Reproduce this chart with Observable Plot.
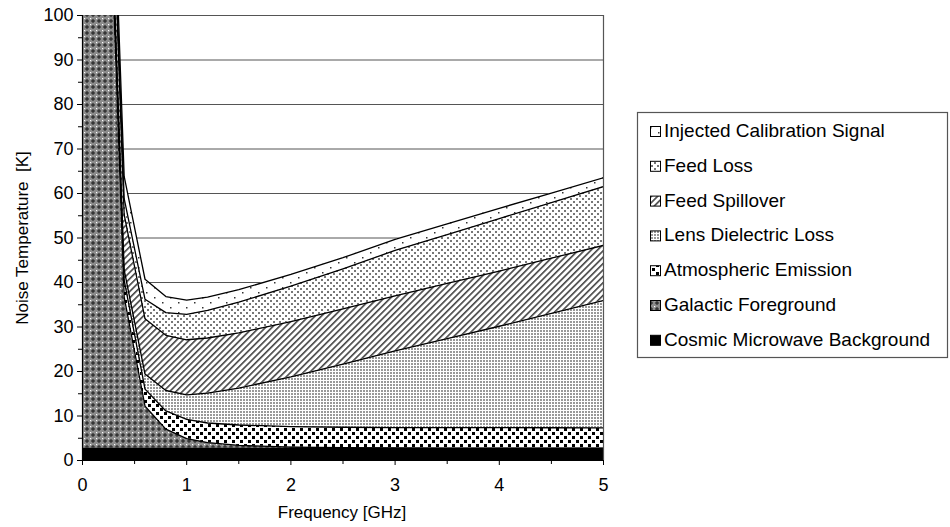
<!DOCTYPE html>
<html><head><meta charset="utf-8">
<script src="https://cdn.jsdelivr.net/npm/d3@7"></script>
<script src="https://cdn.jsdelivr.net/npm/@observablehq/plot@0.6"></script>
<style>
html,body{margin:0;padding:0;background:#fff;}
#chart{position:relative;width:950px;height:527px;}
</style></head><body>
<svg width="0" height="0" style="position:absolute">
<defs>
  <pattern id="pat-cmb" patternUnits="userSpaceOnUse" width="4" height="4"><rect width="4" height="4" fill="#000"/></pattern>
  <pattern id="pat-gal" patternUnits="userSpaceOnUse" width="6" height="6">
    <rect width="6" height="6" fill="#8c8c8c"/>
    <polygon points="3,1 5,3 3,5 1,3" fill="#1a1a1a"/>
    <rect x="0" y="0" width="1.2" height="1.2" fill="#fff"/>
    <rect x="2.6" y="2.6" width="0.8" height="0.8" fill="#ccc"/>
  </pattern>
  <pattern id="pat-atm" patternUnits="userSpaceOnUse" width="8" height="8">
    <rect width="8" height="8" fill="#fff"/>
    <rect x="0" y="0" width="3" height="3" fill="#000"/>
    <rect x="4" y="4" width="3" height="3" fill="#000"/>
  </pattern>
  <pattern id="pat-lens" patternUnits="userSpaceOnUse" width="3" height="3">
    <rect width="3" height="3" fill="#fff"/>
    <rect x="0" y="0" width="2" height="2" fill="#999"/>
  </pattern>
  <pattern id="pat-spill" patternUnits="userSpaceOnUse" width="4.5" height="4.5" patternTransform="rotate(45)">
    <rect width="4.5" height="4.5" fill="#fff"/>
    <rect x="0" y="0" width="1.6" height="4.5" fill="#444"/>
  </pattern>
  <pattern id="pat-feed" patternUnits="userSpaceOnUse" width="6" height="6">
    <rect width="6" height="6" fill="#fff"/>
    <rect x="0" y="0" width="2" height="2" fill="#777"/>
    <rect x="3" y="3" width="2" height="2" fill="#777"/>
  </pattern>
  <pattern id="pat-inj" patternUnits="userSpaceOnUse" width="16" height="10">
    <rect width="16" height="10" fill="#fff"/>
    <rect x="2" y="2" width="1.5" height="1.5" fill="#333"/>
    <rect x="10" y="7" width="1.5" height="1.5" fill="#333"/>
  </pattern>
</defs></svg>
<div id="chart"></div>
<script>
// Frequency samples [GHz]
const freq        = [0,    0.1,  0.2, 0.3, 0.4, 0.6, 0.8, 1.0, 1.2, 1.5,  2.0,  2.5,  3.0,  3.5,  4.0,  4.5,  5.0];
// Noise temperature contributions [K] (stacked bottom to top)
const cmb         = [2.73, 2.73, 2.73, 2.73, 2.73, 2.73, 2.73, 2.73, 2.73, 2.73, 2.73, 2.73, 2.73, 2.73, 2.73, 2.73, 2.73];
const galactic    = [8000, 2200, 275, 100, 34, 9.5, 4.3, 2.2, 1.3, 0.65, 0.28, 0.14, 0.08, 0.05, 0.04, 0.03, 0.02];
const atmospheric = [3.8, 3.8, 3.8, 3.8, 3.8, 3.8, 4.1, 4.3, 4.4, 4.6, 4.6, 4.6, 4.6, 4.6, 4.6, 4.6, 4.6];
const lensLoss    = [0, 0.6, 1.1, 1.7, 2.3, 3.4, 4.6, 5.5, 6.7, 8.3, 11.2, 14.2, 17.2, 20.0, 22.8, 25.7, 28.6];
const spillover   = [12.4, 12.4, 12.4, 12.4, 12.4, 12.4, 12.4, 12.4, 12.4, 12.4, 12.4, 12.4, 12.4, 12.4, 12.4, 12.4, 12.4];
const feedLoss    = [2.5, 2.8, 3.1, 3.3, 3.6, 4.4, 5.1, 5.7, 6.2, 6.9, 8.0, 9.0, 10.2, 11.0, 11.8, 12.5, 13.2];
const injected    = [6.0, 6.0, 5.8, 5.5, 5.0, 4.5, 3.6, 3.2, 3.0, 2.8, 2.6, 2.5, 2.5, 2.4, 2.3, 2.1, 2.0];

const series = ["Cosmic Microwave Background", "Galactic Foreground", "Atmospheric Emission",
                "Lens Dielectric Loss", "Feed Spillover", "Feed Loss", "Injected Calibration Signal"];
const patternIds = ["pat-cmb", "pat-gal", "pat-atm", "pat-lens", "pat-spill", "pat-feed", "pat-inj"];
const legendOrder = ["Injected Calibration Signal", "Feed Loss", "Feed Spillover", "Lens Dielectric Loss",
                     "Atmospheric Emission", "Galactic Foreground", "Cosmic Microwave Background"];

const xTicks = [0, 1, 2, 3, 4, 5];
const xMinor = [0.5, 1.5, 2.5, 3.5, 4.5];
const yTicks = [0, 10, 20, 30, 40, 50, 60, 70, 80, 90, 100];
const yMinor = [5, 15, 25, 35, 45, 55, 65, 75, 85, 95];

const values = [cmb, galactic, atmospheric, lensLoss, spillover, feedLoss, injected];
const table = series.flatMap((s, i) => freq.map((f, j) => ({freq: f, value: values[i][j], series: s})));

const plot = Plot.plot({
  width: 950, height: 527,
  marginLeft: 82, marginRight: 347, marginTop: 15, marginBottom: 67,
  style: {fontFamily: "'Liberation Sans', Arial, sans-serif", fontSize: "18px", color: "#000", background: "#fff"},
  x: {domain: [0, 5]},
  y: {domain: [0, 100]},
  color: {domain: series, range: patternIds.map(id => `url(#${id})`)},
  marks: [
    Plot.gridY(yTicks, {stroke: "#555", strokeOpacity: 1, strokeWidth: 1}),
    Plot.areaY(table, Plot.stackY({x: "freq", y: "value", z: "series", fill: "series", clip: true})),
    Plot.lineY(table, Plot.stackY2({x: "freq", y: "value", z: "series", stroke: "#000", strokeWidth: 1.3, clip: true})),
    Plot.ruleX([5], {stroke: "#555", strokeWidth: 1.2}),
    Plot.ruleX([0], {stroke: "#000", strokeWidth: 1.2}),
    Plot.ruleY([0], {stroke: "#000", strokeWidth: 1.2}),
    Plot.axisY(yTicks, {tickSize: 5, tickPadding: 4, label: null, tickFormat: d => String(d)}),
    Plot.axisY(yMinor, {tickSize: 4, label: null, tickFormat: () => ""}),
    Plot.axisX(xTicks, {tickSize: 5, tickPadding: 13, label: null, tickFormat: d => String(d)}),
    Plot.axisX(xMinor, {tickSize: 4, label: null, tickFormat: () => ""})
  ]
});

const svg = d3.select(plot);
svg.append("text")
  .attr("transform", "translate(24,238) rotate(-90)")
  .attr("text-anchor", "middle").attr("dominant-baseline", "middle")
  .style("white-space", "pre").style("font-size", "17px").attr("fill", "#000")
  .text("Noise Temperature  [K]");
svg.append("text")
  .attr("x", 342).attr("y", 514)
  .attr("text-anchor", "middle").attr("dominant-baseline", "middle")
  .style("font-size", "17px").attr("fill", "#000")
  .text("Frequency [GHz]");

const lg = svg.append("g").attr("text-anchor", "start");
lg.append("rect").attr("x", 637.5).attr("y", 112.5).attr("width", 310).attr("height", 245)
  .attr("fill", "#fff").attr("stroke", "#555").attr("stroke-width", 1.2);
legendOrder.forEach((s, i) => {
  const y = 132 + i * 34.8;
  const id = patternIds[series.indexOf(s)];
  lg.append("rect").attr("x", 650.5).attr("y", y - 5.5).attr("width", 10).attr("height", 10)
    .attr("fill", `url(#${id})`).attr("stroke", "#000").attr("stroke-width", 1);
  lg.append("text").attr("x", 664).attr("y", y).attr("dominant-baseline", "middle")
    .attr("text-anchor", "start").style("font-size", "19px")
    .attr("fill", "#000").text(s);
});

document.getElementById("chart").appendChild(plot);
</script>
</body></html>
